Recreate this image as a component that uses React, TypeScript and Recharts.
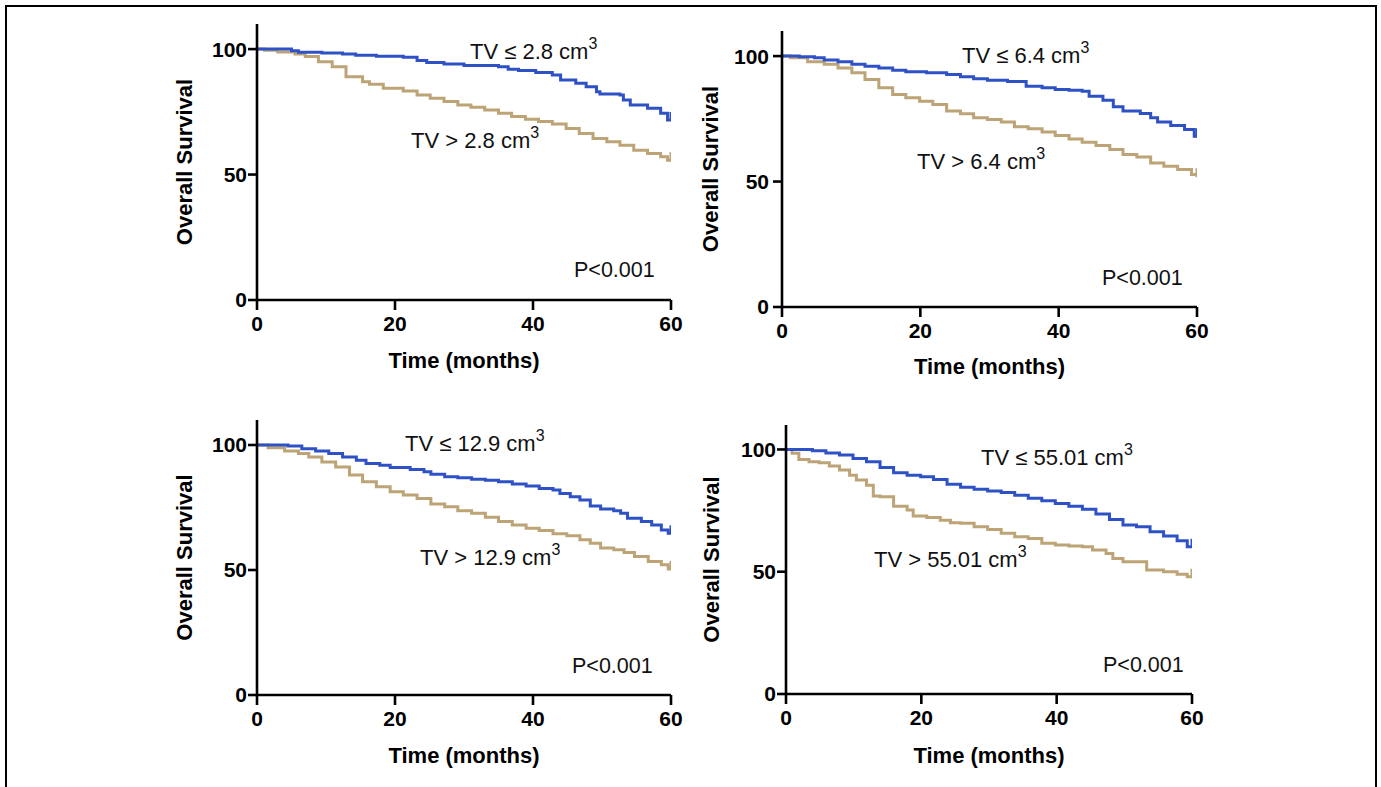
import React from 'react';
import { LineChart, Line, XAxis, YAxis, Customized } from 'recharts';

// ---------- data (months, overall survival %) ----------
const p1LowT = [0, 5.0, 6.0, 9.4, 12.4, 14.3, 17.3, 21.2, 23.2, 24.6, 27.1, 30.0, 35.0, 36.4, 37.9, 40.4, 42.8, 44.0, 46.2, 47.7, 49.2, 49.7, 52.6, 53.1, 54.1, 56.6, 58.5, 59.5, 60];
const p1LowS = [100, 99.3, 98.7, 98.4, 98.0, 97.5, 97.1, 96.7, 95.5, 94.7, 94.1, 93.5, 93.0, 92.0, 91.5, 90.7, 89.7, 87.7, 86.4, 85.0, 83.0, 82.1, 81.7, 79.7, 77.7, 76.4, 74.4, 71.7, 71.7];
const p1HighT = [0, 1.1, 3.0, 5.5, 7.0, 8.9, 10.9, 12.9, 15.3, 16.3, 18.3, 21.2, 23.2, 25.1, 27.1, 29.1, 31.0, 33.0, 35.0, 36.9, 38.9, 40.8, 42.8, 44.8, 46.7, 48.7, 50.7, 52.6, 54.6, 56.6, 58.5, 59.5, 60];
const p1HighS = [100, 99.5, 98.8, 98.0, 97.0, 95.0, 93.0, 89.0, 87.0, 86.0, 84.4, 83.3, 81.7, 80.4, 79.1, 77.7, 76.8, 75.7, 74.4, 73.1, 72.0, 71.1, 70.1, 68.4, 66.4, 64.4, 63.1, 61.7, 59.7, 58.4, 57.1, 55.7, 55.7];

const p2LowT = [0, 2.5, 4.7, 6.1, 8.1, 10.1, 12.0, 14.0, 16.0, 17.9, 20.9, 23.8, 25.8, 27.7, 29.7, 32.6, 35.3, 37.6, 39.5, 41.5, 43.4, 44.4, 46.4, 47.9, 49.3, 51.8, 53.3, 54.3, 56.2, 58.2, 59.6, 60];
const p2LowS = [100, 99.7, 99.3, 98.4, 97.7, 96.7, 96.0, 95.3, 94.4, 93.8, 93.4, 92.7, 91.8, 91.0, 90.4, 89.9, 88.0, 87.4, 86.7, 86.4, 86.0, 84.0, 82.4, 79.8, 78.1, 77.1, 75.4, 73.7, 72.3, 70.7, 68.1, 68.1];
const p2HighT = [0, 1.2, 3.7, 6.1, 8.1, 10.1, 12.0, 14.0, 16.0, 17.9, 19.9, 21.8, 23.8, 25.8, 27.7, 29.7, 31.7, 33.6, 35.6, 37.6, 39.5, 41.5, 43.4, 45.4, 47.4, 49.3, 51.3, 53.3, 55.2, 57.2, 59.2, 60];
const p2HighS = [100, 99.3, 97.7, 96.7, 95.3, 93.4, 90.7, 87.4, 84.7, 83.4, 82.0, 80.7, 78.1, 77.0, 75.4, 74.7, 73.7, 71.8, 71.0, 69.7, 68.4, 67.0, 65.7, 64.4, 62.8, 60.8, 59.8, 57.4, 56.1, 54.8, 52.8, 52.1];

const p3LowT = [0, 4.5, 6.5, 8.5, 10.4, 12.4, 14.4, 15.8, 17.8, 19.3, 22.2, 24.2, 25.2, 27.2, 29.1, 31.1, 33.1, 35.0, 37.0, 39.0, 40.9, 42.9, 43.9, 45.4, 46.8, 48.3, 49.8, 51.7, 52.7, 53.7, 55.7, 57.2, 58.6, 59.6, 60];
const p3LowS = [100, 99.6, 98.5, 97.6, 96.6, 95.2, 93.9, 92.6, 91.9, 91.0, 90.2, 89.3, 88.3, 87.3, 86.9, 86.3, 85.9, 85.3, 84.4, 83.6, 82.6, 82.0, 80.6, 79.3, 78.0, 75.6, 74.4, 73.7, 72.7, 70.7, 69.4, 68.0, 66.0, 64.7, 64.7];
const p3HighT = [0, 1.6, 4.0, 6.0, 7.5, 9.4, 11.4, 13.4, 15.3, 17.3, 19.3, 21.2, 23.2, 25.2, 27.2, 29.1, 31.1, 33.1, 35.0, 37.0, 39.0, 40.9, 42.9, 44.9, 46.8, 48.3, 49.8, 51.7, 53.2, 54.7, 56.7, 58.6, 59.6, 60];
const p3HighS = [100, 98.9, 97.6, 96.6, 95.2, 93.2, 91.2, 88.0, 85.3, 83.3, 81.3, 80.0, 78.6, 76.4, 75.3, 73.7, 72.7, 71.1, 69.4, 68.0, 66.7, 65.8, 64.5, 63.7, 62.1, 60.7, 58.8, 58.1, 57.0, 55.4, 53.4, 52.1, 50.4, 50.4];

const p4LowT = [0, 3.9, 5.9, 7.9, 9.9, 11.9, 13.9, 15.9, 17.9, 19.9, 21.8, 23.8, 25.8, 27.8, 29.8, 31.8, 33.8, 35.8, 37.8, 39.8, 41.8, 43.8, 45.8, 47.8, 49.8, 51.8, 53.8, 55.8, 57.8, 59.3, 60];
const p4LowS = [100, 99.5, 98.6, 97.7, 96.3, 95.0, 92.6, 90.5, 89.5, 88.8, 87.7, 85.8, 84.5, 83.7, 83.0, 82.4, 81.3, 80.0, 79.0, 77.9, 76.8, 75.5, 73.6, 71.4, 69.1, 68.4, 66.3, 64.6, 62.7, 60.2, 60.2];
const p4HighT = [0, 0.9, 1.9, 3.4, 4.9, 6.4, 7.9, 9.4, 10.4, 11.9, 12.9, 13.9, 15.9, 17.9, 18.8, 20.8, 22.8, 24.3, 25.8, 27.8, 29.8, 31.8, 33.8, 35.8, 37.8, 39.8, 41.8, 43.8, 45.3, 47.3, 48.3, 49.8, 53.3, 55.8, 57.8, 59.3, 60];
const p4HighS = [100, 98.4, 95.9, 95.0, 94.6, 93.2, 91.6, 89.5, 87.5, 85.4, 81.0, 80.7, 76.8, 75.2, 72.8, 72.2, 71.1, 70.0, 69.8, 68.4, 67.3, 65.7, 64.3, 63.6, 61.6, 60.9, 60.5, 60.2, 58.9, 57.5, 55.4, 54.1, 50.7, 50.0, 49.0, 47.9, 47.9];

const xTicks = [0, 20, 40, 60];
const yTicks = [0, 50, 100];
const cutoffs = ['2.8', '6.4', '12.9', '55.01'];
const pLabel = 'P<0.001';
const xTitle = 'Time (months)';
const yTitle = 'Overall Survival';

const zip = (t: number[], s: number[]) => t.map((v, i) => ({ t: v, s: s[i] }));

const BLUE = '#2e52c6';
const TAN = '#bca477';
const FONT = '"Liberation Sans", Arial, Helvetica, sans-serif';

// ---------- layout (page pixel coordinates) ----------
type PanelCfg = {
  x0: number; yTop: number; plotW: number; plotH: number;
  low: { t: number; s: number }[]; high: { t: number; s: number }[];
  cut: string;
  lowLbl: [number, number]; highLbl: [number, number]; pLbl: [number, number];
  yTitleX: number; xTitleY: number; yTickMargin: number;
};

const panels: PanelCfg[] = [
  { x0: 257, yTop: 24, plotW: 414, plotH: 276, low: zip(p1LowT, p1LowS), high: zip(p1HighT, p1HighS), cut: cutoffs[0],
    lowLbl: [470, 59], highLbl: [411, 148], pLbl: [574, 277], yTitleX: 184, xTitleY: 368, yTickMargin: 1 },
  { x0: 782, yTop: 31, plotW: 415, plotH: 276, low: zip(p2LowT, p2LowS), high: zip(p2HighT, p2HighS), cut: cutoffs[1],
    lowLbl: [962, 63], highLbl: [917, 169], pLbl: [1102, 285], yTitleX: 710, xTitleY: 374, yTickMargin: 4 },
  { x0: 257, yTop: 420, plotW: 414, plotH: 275, low: zip(p3LowT, p3LowS), high: zip(p3HighT, p3HighS), cut: cutoffs[2],
    lowLbl: [405, 451], highLbl: [420, 565], pLbl: [572, 673], yTitleX: 184, xTitleY: 763, yTickMargin: 1 },
  { x0: 786, yTop: 425, plotW: 406, plotH: 269, low: zip(p4LowT, p4LowS), high: zip(p4HighT, p4HighS), cut: cutoffs[3],
    lowLbl: [981, 465], highLbl: [874, 567], pLbl: [1103, 672], yTitleX: 711, xTitleY: 763, yTickMargin: 1 },
];

const LEFT = 110;
const TOP = 20;
const RIGHT = 30;
const BOTTOM = 80;

const censor = (color: string, n: number) => (props: any) => {
  const { cx, cy, index } = props;
  if (index !== n - 1 || cx == null) return <g key={`d-${index}`} />;
  return <line key={`d-${index}`} x1={cx} y1={cy + 1} x2={cx} y2={cy - 8} stroke={color} strokeWidth={3} />;
};

const Cm3 = ({ x, y, text }: { x: number; y: number; text: string }) => (
  <text x={x} y={y} fontFamily={FONT} fontSize={22} fill="#111">
    {text}
    <tspan fontSize={16} dy={-10}>3</tspan>
  </text>
);

function Panel({ cfg }: { cfg: PanelCfg }) {
  const left = cfg.x0 - LEFT;
  const top = cfg.yTop - TOP;
  const W = LEFT + cfg.plotW + RIGHT;
  const H = TOP + cfg.plotH + BOTTOM;
  const cx = (x: number) => x - left;
  const cy = (y: number) => y - top;
  const axisStyle = { stroke: '#000', strokeWidth: 2.6 };
  const tickStyle = { fill: '#000', fontFamily: FONT, fontWeight: 700, fontSize: 21 };
  const yTitleCx = cx(cfg.yTitleX) + 8;
  const yTitleCy = TOP + cfg.plotH / 2;
  return (
    <div style={{ position: 'absolute', left, top, width: W, height: H }}>
      <LineChart width={W} height={H} margin={{ top: TOP, right: RIGHT, bottom: 0, left: 0 }}>
        <XAxis
          dataKey="t" type="number" domain={[0, 60]} ticks={xTicks} allowDataOverflow
          height={BOTTOM} axisLine={axisStyle} tickLine={axisStyle} tickSize={10} tickMargin={6}
          tick={tickStyle} interval={0}
        />
        <YAxis
          dataKey="s" type="number" domain={[0, 110]} ticks={yTicks} allowDataOverflow
          width={LEFT} axisLine={axisStyle} tickLine={axisStyle} tickSize={9} tickMargin={cfg.yTickMargin}
          tick={tickStyle} interval={0}
        />
        <Line data={cfg.high} dataKey="s" type="stepAfter" stroke={TAN} strokeWidth={3}
          dot={censor(TAN, cfg.high.length)} activeDot={false} isAnimationActive={false} />
        <Line data={cfg.low} dataKey="s" type="stepAfter" stroke={BLUE} strokeWidth={3}
          dot={censor(BLUE, cfg.low.length)} activeDot={false} isAnimationActive={false} />
        <Customized
          component={
            <g>
              <Cm3 x={cx(cfg.lowLbl[0])} y={cy(cfg.lowLbl[1])} text={`TV ≤ ${cfg.cut} cm`} />
              <Cm3 x={cx(cfg.highLbl[0])} y={cy(cfg.highLbl[1])} text={`TV > ${cfg.cut} cm`} />
              <text x={cx(cfg.pLbl[0])} y={cy(cfg.pLbl[1])} fontFamily={FONT} fontSize={21.5} fill="#111">{pLabel}</text>
              <text x={LEFT + cfg.plotW / 2} y={cy(cfg.xTitleY)} textAnchor="middle" fontFamily={FONT}
                fontWeight={700} fontSize={22} fill="#000">{xTitle}</text>
              <text x={yTitleCx} y={yTitleCy} textAnchor="middle" fontFamily={FONT} fontWeight={700}
                fontSize={22} fill="#000" transform={`rotate(-90 ${yTitleCx} ${yTitleCy})`}>{yTitle}</text>
            </g>
          }
        />
      </LineChart>
    </div>
  );
}

export default function App() {
  return (
    <div style={{ position: 'absolute', left: 0, top: 0, width: 1381, height: 787, background: '#fff', overflow: 'hidden' }}>
      <div style={{ position: 'absolute', left: 5, top: 5, width: 1372, height: 800, border: '2px solid #000', boxSizing: 'border-box' }} />
      {panels.map((p, i) => <Panel key={i} cfg={p} />)}
    </div>
  );
}
